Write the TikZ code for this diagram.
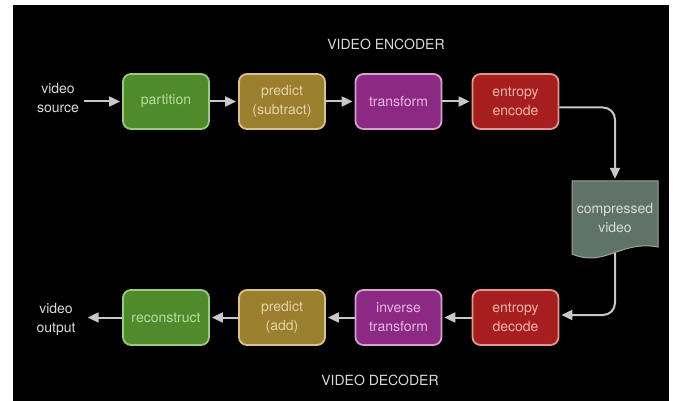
\documentclass[tikz,border=0pt]{standalone}
\usepackage{fontspec}
\setmainfont{TeX Gyre Heros}
\usepackage{tikz}
\usetikzlibrary{arrows.meta}

\definecolor{partfill}{HTML}{4F8B2B}
\definecolor{partline}{HTML}{9DCB7E}
\definecolor{parttext}{HTML}{B5DDA0}
\definecolor{predfill}{HTML}{9A7F2E}
\definecolor{predline}{HTML}{D9C38A}
\definecolor{predtext}{HTML}{E3D3A6}
\definecolor{transfill}{HTML}{8B2983}
\definecolor{transline}{HTML}{D6A0CF}
\definecolor{transtext}{HTML}{E9B8E2}
\definecolor{entfill}{HTML}{A71E1E}
\definecolor{entline}{HTML}{E3968E}
\definecolor{enttext}{HTML}{F2B6AC}
\definecolor{cvfill}{HTML}{5F7366}
\definecolor{cvline}{HTML}{9AA99F}
\definecolor{cvtext}{HTML}{D3DCD5}
\definecolor{wire}{HTML}{C8C8C8}
\definecolor{label}{HTML}{DADADA}

\begin{document}
\begin{tikzpicture}[x=1pt, y=-1pt,
  every node/.style={font=\fontsize{14}{19}\selectfont, align=center},
  stage/.style={rectangle, rounded corners=8pt, line width=1.8pt, minimum width=86pt, minimum height=55pt, inner sep=1pt},
  flow/.style={draw=wire, line width=2pt, -{Triangle[length=11pt, width=10pt]}, shorten >=2pt}]
  \useasboundingbox (0,0) rectangle (673,401);
  \fill [black] (13,5) rectangle (669,401);

  % encoder row
  \node (enctitle) [text=label] at (386,44) {VIDEO ENCODER};
  \node (src) [text=label, inner sep=0pt] at (58,98) {video\\source};
  \node (part) [stage, fill=partfill, draw=partline, text=parttext] at (166,101.5) {partition};
  \node (predsub) [stage, fill=predfill, draw=predline, text=predtext] at (282,101.5) {predict\\(subtract)};
  \node (trans) [stage, fill=transfill, draw=transline, text=transtext] at (398.5,101.5) {transform};
  \node (enc) [stage, fill=entfill, draw=entline, text=enttext] at (515.5,101.5) {entropy\\encode};

  % compressed video (document shape)
  \fill [cvfill, draw=cvline, line width=1pt] (572,181) -- (658,181) -- (658,247)
    .. controls (620,240) and (605,268) .. (572,254) -- cycle;
  \node (cv) [minimum width=86pt, minimum height=75pt, text=cvtext] at (615,218.5) {compressed\\video};

  % decoder row
  \node (dec) [stage, fill=entfill, draw=entline, text=enttext] at (515.5,317.5) {entropy\\decode};
  \node (inv) [stage, fill=transfill, draw=transline, text=transtext] at (398.5,317.5) {inverse\\transform};
  \node (predadd) [stage, fill=predfill, draw=predline, text=predtext] at (282,317.5) {predict\\(add)};
  \node (rec) [stage, fill=partfill, draw=partline, text=parttext] at (166,317.5) {reconstruct};
  \node (out) [text=label, inner sep=0pt] at (56,319.5) {video\\output};
  \node (dectitle) [text=label] at (380,380) {VIDEO DECODER};

  \draw [flow, shorten <=5pt] (src.east |- part.west) -- (part);
  \draw [flow] (part) -- (predsub);
  \draw [flow] (predsub) -- (trans);
  \draw [flow] (trans) -- (enc);
  \draw [flow, rounded corners=12pt] ([yshift=-6pt]enc.east) -| (cv.north);
  \draw [flow, rounded corners=12pt, shorten <=-3pt] (cv.south) |- ([yshift=2.5pt]dec.east);
  \draw [flow] (dec) -- (inv);
  \draw [flow] (inv) -- (predadd);
  \draw [flow] (predadd) -- (rec);
  \draw [flow, shorten >=12pt] (rec) -- (out.east |- rec.west);
\end{tikzpicture}
\end{document}
